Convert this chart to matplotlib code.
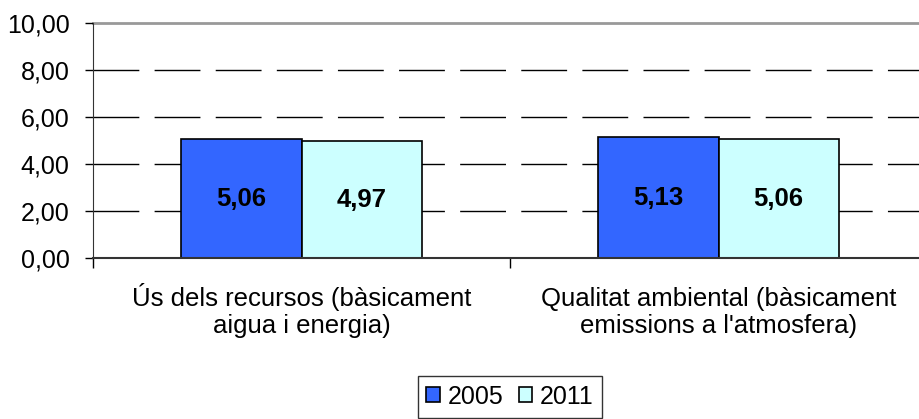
import matplotlib.pyplot as plt
import numpy as np

plt.rcParams['font.family'] = ['Liberation Sans', 'DejaVu Sans']

# dades
categories = ["Ús dels recursos (bàsicament\naigua i energia)",
              "Qualitat ambiental (bàsicament\nemissions a l'atmosfera)"]
anys = ['2005', '2011']
valors_2005 = [5.06, 5.13]
valors_2011 = [4.97, 5.06]
colors = ['#3366FF', '#CCFFFF']

fig = plt.figure(figsize=(9.19, 4.19), dpi=100)
ax = fig.add_axes([93 / 919, 1 - 258 / 419, (927 - 93) / 919, (258 - 23) / 419])

x = np.arange(len(categories))
amplada = 0.288

# línies de la graella
for y in [2, 4, 6, 8]:
    ax.axhline(y, color='black', lw=1, dashes=(33, 11), zorder=0)
ax.axhline(10, color='#999999', lw=2, zorder=0, clip_on=False)

barres = []
for i, (vals, col) in enumerate(zip([valors_2005, valors_2011], colors)):
    b = ax.bar(x + (i - 0.5) * amplada, vals, amplada, color=col,
               edgecolor='black', linewidth=1.2, label=anys[i], zorder=2)
    barres.append(b)
    for xi, v in zip(x + (i - 0.5) * amplada, vals):
        ax.text(xi, v / 2, f'{v:.2f}'.replace('.', ','), ha='center', va='center',
                fontsize=18.5, fontweight='bold', zorder=3)

ax.set_xlim(-0.5, 1.5)
ax.set_ylim(0, 10)
ax.set_yticks([0, 2, 4, 6, 8, 10])
ax.set_yticklabels([f'{v:.2f}'.replace('.', ',') for v in [0, 2, 4, 6, 8, 10]])
ax.tick_params(axis='y', length=6, width=1, pad=11, labelsize=18)

# etiquetes de categoria, línia per línia amb la línia base fixa
ax.set_xticks(x)
ax.set_xticklabels([])
ax.tick_params(axis='x', which='major', length=0)
trans = ax.get_xaxis_transform()
for xi, cat in zip(x, categories):
    for j, linia in enumerate(cat.split('\n')):
        ax.text(xi, -(306 - 258 + 27 * j) / 235, linia, transform=trans,
                ha='center', va='baseline', fontsize=18.5, clip_on=False)
ax.set_xticks([-0.5, 0.5, 1.5], minor=True)
ax.tick_params(axis='x', which='minor', length=7, width=1)

for s in ['top', 'right']:
    ax.spines[s].set_visible(False)
ax.spines['left'].set_color('#333333')
ax.spines['bottom'].set_color('#333333')
ax.spines['bottom'].set_linewidth(1.5)

fig.legend(handles=barres, labels=anys, loc='upper center',
           bbox_to_anchor=(510 / 919, 1 - 376 / 419), ncol=2, fontsize=18,
           frameon=True, fancybox=False, edgecolor='black', handlelength=0.55,
           handleheight=0.55, handletextpad=0.3, columnspacing=0.6,
           borderpad=0.35, borderaxespad=0)

fig.savefig('out.png', dpi=100)
